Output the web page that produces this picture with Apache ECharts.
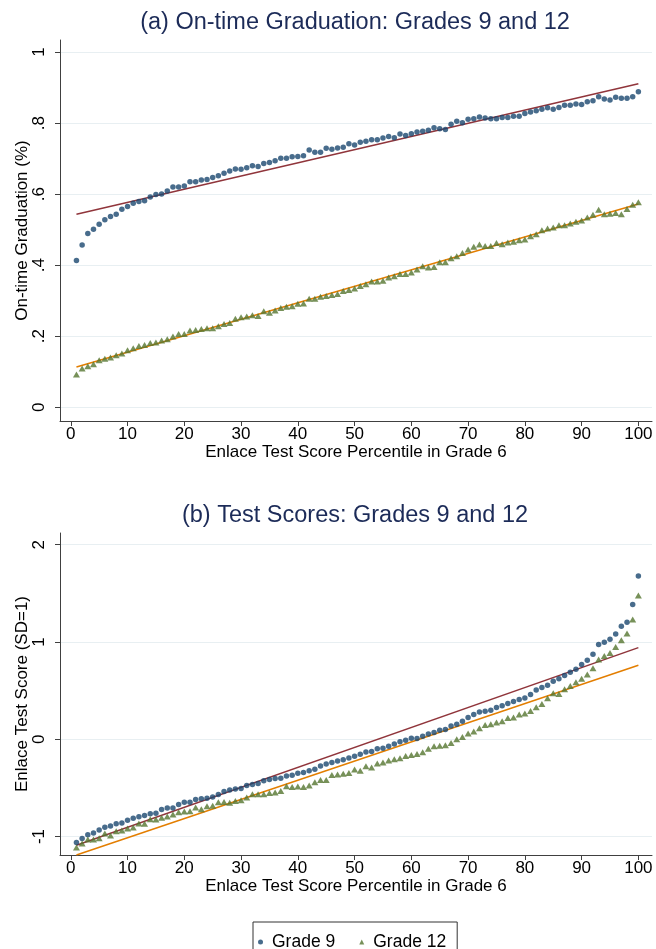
<!DOCTYPE html>
<html><head><meta charset="utf-8">
<script src="https://cdn.jsdelivr.net/npm/echarts@6/dist/echarts.min.js"></script>
<style>html,body{margin:0;padding:0;background:#fff}#c{width:656px;height:949px}</style>
</head><body><div id="c"></div>
<script>
const pct = [1,2,3,4,5,6,7,8,9,10,11,12,13,14,15,16,17,18,19,20,21,22,23,24,25,26,27,28,29,30,31,32,33,34,35,36,37,38,39,40,41,42,43,44,45,46,47,48,49,50,51,52,53,54,55,56,57,58,59,60,61,62,63,64,65,66,67,68,69,70,71,72,73,74,75,76,77,78,79,80,81,82,83,84,85,86,87,88,89,90,91,92,93,94,95,96,97,98,99,100];
const gradA9 = [0.413,0.457,0.489,0.501,0.515,0.528,0.537,0.543,0.557,0.565,0.574,0.579,0.581,0.592,0.599,0.600,0.609,0.620,0.620,0.623,0.635,0.635,0.640,0.641,0.647,0.652,0.659,0.665,0.671,0.670,0.674,0.680,0.678,0.686,0.689,0.694,0.701,0.701,0.705,0.706,0.708,0.724,0.718,0.718,0.729,0.726,0.730,0.732,0.742,0.738,0.746,0.749,0.753,0.753,0.758,0.762,0.759,0.769,0.765,0.770,0.775,0.777,0.780,0.787,0.784,0.782,0.797,0.805,0.801,0.811,0.812,0.817,0.814,0.812,0.812,0.816,0.816,0.819,0.819,0.827,0.831,0.835,0.839,0.843,0.839,0.844,0.850,0.850,0.854,0.852,0.860,0.863,0.874,0.868,0.865,0.873,0.870,0.870,0.874,0.888];
const gradA12 = [0.092,0.109,0.115,0.121,0.132,0.136,0.140,0.146,0.151,0.160,0.166,0.172,0.175,0.181,0.182,0.188,0.191,0.199,0.206,0.206,0.216,0.217,0.220,0.222,0.222,0.228,0.234,0.237,0.249,0.253,0.255,0.259,0.257,0.270,0.266,0.272,0.279,0.283,0.284,0.291,0.292,0.305,0.305,0.311,0.313,0.316,0.319,0.327,0.330,0.334,0.341,0.346,0.354,0.354,0.356,0.365,0.369,0.375,0.375,0.379,0.388,0.397,0.393,0.395,0.408,0.408,0.419,0.425,0.434,0.444,0.452,0.458,0.454,0.454,0.462,0.459,0.464,0.466,0.470,0.472,0.481,0.487,0.498,0.503,0.506,0.512,0.512,0.517,0.522,0.526,0.534,0.542,0.556,0.543,0.545,0.547,0.543,0.558,0.570,0.577];
const testB9 = [-1.062,-1.021,-0.983,-0.963,-0.932,-0.904,-0.891,-0.870,-0.860,-0.832,-0.812,-0.798,-0.785,-0.767,-0.761,-0.723,-0.706,-0.706,-0.672,-0.647,-0.647,-0.620,-0.613,-0.606,-0.593,-0.569,-0.538,-0.521,-0.511,-0.507,-0.476,-0.466,-0.456,-0.428,-0.415,-0.404,-0.401,-0.377,-0.370,-0.349,-0.343,-0.325,-0.308,-0.274,-0.254,-0.240,-0.223,-0.212,-0.192,-0.175,-0.154,-0.130,-0.127,-0.099,-0.092,-0.072,-0.048,-0.027,-0.010,0.010,0.007,0.031,0.055,0.069,0.092,0.099,0.137,0.154,0.185,0.223,0.254,0.281,0.288,0.298,0.325,0.343,0.367,0.387,0.408,0.425,0.459,0.507,0.531,0.555,0.596,0.623,0.655,0.689,0.719,0.767,0.812,0.874,0.973,0.997,1.028,1.083,1.161,1.202,1.384,1.679];
const testB12 = [-1.113,-1.072,-1.031,-1.031,-1.017,-0.969,-0.990,-0.946,-0.939,-0.918,-0.908,-0.867,-0.870,-0.822,-0.825,-0.808,-0.795,-0.774,-0.750,-0.743,-0.740,-0.702,-0.719,-0.689,-0.685,-0.647,-0.644,-0.654,-0.634,-0.627,-0.599,-0.565,-0.565,-0.565,-0.552,-0.548,-0.531,-0.483,-0.490,-0.486,-0.490,-0.476,-0.442,-0.418,-0.418,-0.367,-0.363,-0.356,-0.346,-0.312,-0.325,-0.277,-0.291,-0.250,-0.240,-0.219,-0.206,-0.195,-0.172,-0.161,-0.151,-0.134,-0.099,-0.072,-0.068,-0.062,-0.038,0.000,0.024,0.058,0.079,0.113,0.147,0.154,0.171,0.185,0.219,0.223,0.254,0.264,0.291,0.329,0.363,0.421,0.473,0.466,0.514,0.548,0.586,0.623,0.665,0.730,0.819,0.856,0.887,0.949,1.017,1.086,1.230,1.477];
const fitX = [1, 100];
const fitA9 = [0.543, 0.911];
const fitA12 = [0.113, 0.572];
const fitB9 = [-1.089, 0.942];
const fitB12 = [-1.19, 0.76];
const xTicks = [0,10,20,30,40,50,60,70,80,90,100];
const yTicksA = [0,0.2,0.4,0.6,0.8,1];
const yTicksB = [-1,0,1,2];
const titles = ['(a) On-time Graduation: Grades 9 and 12','(b) Test Scores: Grades 9 and 12'];
const yNames = ['On-time Graduation (%)','Enlace Test Score (SD=1)'];
const xName = 'Enlace Test Score Percentile in Grade 6';
const seriesNames = ['Grade 9','Grade 12'];

const FONT = 'Liberation Sans, Arial, sans-serif';
const NAVY = '#1a476f', GREEN = '#55752f', MAROON = '#90353b', ORANGE = '#e37e00';
const AXC = '#404040', GRID = '#e8eff2', TITLEC = '#1c2b58';
const FS = 17;
const pairs = (xs, ys) => xs.map((x, i) => [x, ys[i]]);

function xAx(idx) {
  return {
    type: 'value', gridIndex: idx, min: -1.9, max: 102.4,
    name: xName, nameLocation: 'middle', nameGap: 23, nameMoveOverlap: false,
    nameTextStyle: {fontFamily: FONT, fontSize: FS, color: '#000'},
    axisLine: {show: true, onZero: false, lineStyle: {color: AXC, width: 1}},
    axisTick: {show: true, length: 5, lineStyle: {color: AXC}, customValues: xTicks},
    axisLabel: {fontFamily: FONT, fontSize: FS, color: '#000', margin: 5, customValues: xTicks},
    splitLine: {show: false}
  };
}
function yAx(idx, min, max, ticks, fmt) {
  return {
    type: 'value', gridIndex: idx, min: min, max: max,
    name: yNames[idx], nameLocation: 'middle', nameGap: 29, nameRotate: 90, nameMoveOverlap: false,
    nameTextStyle: {fontFamily: FONT, fontSize: FS, color: '#000'},
    axisLine: {show: true, onZero: false, lineStyle: {color: AXC, width: 1}},
    axisTick: {show: true, length: 5, lineStyle: {color: AXC}, customValues: ticks},
    axisLabel: {fontFamily: FONT, fontSize: FS, color: '#000', margin: 12, rotate: 90, customValues: ticks, formatter: fmt},
    splitLine: {show: true, lineStyle: {color: GRID, width: 1}}
  };
}
const fmtA = v => (v === 0 ? '0' : v === 1 ? '1' : String(+v.toFixed(1)).replace(/^0/, ''));
const fmtB = v => String(Math.round(v));

function scat(name, xi, data, color, sym, size) {
  return {name, type: 'scatter', xAxisIndex: xi, yAxisIndex: xi, data, symbol: sym, symbolSize: size,
    itemStyle: {color}, z: 3, silent: true, animation: false};
}
function fit(xi, ys, color) {
  return {type: 'line', xAxisIndex: xi, yAxisIndex: xi, data: pairs(fitX, ys), showSymbol: false, symbol: 'none',
    lineStyle: {color, width: 1.5}, z: 2, silent: true, animation: false};
}

const chart = echarts.init(document.getElementById('c'), null, {renderer: 'canvas'});
chart.setOption({
  backgroundColor: '#fff',
  animation: false,
  title: [
    {text: titles[0], left: 350, textAlign: 'center', top: 6, textStyle: {fontFamily: FONT, fontSize: 23.5, fontWeight: 'normal', color: TITLEC}},
    {text: titles[1], left: 350, textAlign: 'center', top: 499, textStyle: {fontFamily: FONT, fontSize: 23.5, fontWeight: 'normal', color: TITLEC}}
  ],
  grid: [
    {left: 60, top: 40, width: 592, height: 381},
    {left: 60, top: 533, width: 592, height: 322}
  ],
  xAxis: [xAx(0), xAx(1)],
  yAxis: [yAx(0, -0.039, 1.034, yTicksA, fmtA), yAx(1, -1.19, 2.12, yTicksB, fmtB)],
  legend: {
    top: 922, left: 253, data: [{name: seriesNames[0], icon: 'circle'}, {name: seriesNames[1], icon: 'triangle'}],
    itemWidth: 5, itemHeight: 5, itemGap: 24,
    borderColor: '#333', borderWidth: 1, padding: [11, 11, 10, 5],
    textStyle: {fontFamily: FONT, fontSize: 17.5, color: '#000', padding: [0, 0, 0, 4]}
  },
  series: [
    fit(0, fitA9, MAROON), fit(0, fitA12, ORANGE),
    scat(seriesNames[0], 0, pairs(pct, gradA9), NAVY, 'circle', 5.5),
    scat(seriesNames[1], 0, pairs(pct, gradA12), GREEN, 'triangle', [7, 6]),
    fit(1, fitB9, MAROON), fit(1, fitB12, ORANGE),
    scat(seriesNames[0], 1, pairs(pct, testB9), NAVY, 'circle', 5.5),
    scat(seriesNames[1], 1, pairs(pct, testB12), GREEN, 'triangle', [7, 6])
  ]
});
</script></body></html>
